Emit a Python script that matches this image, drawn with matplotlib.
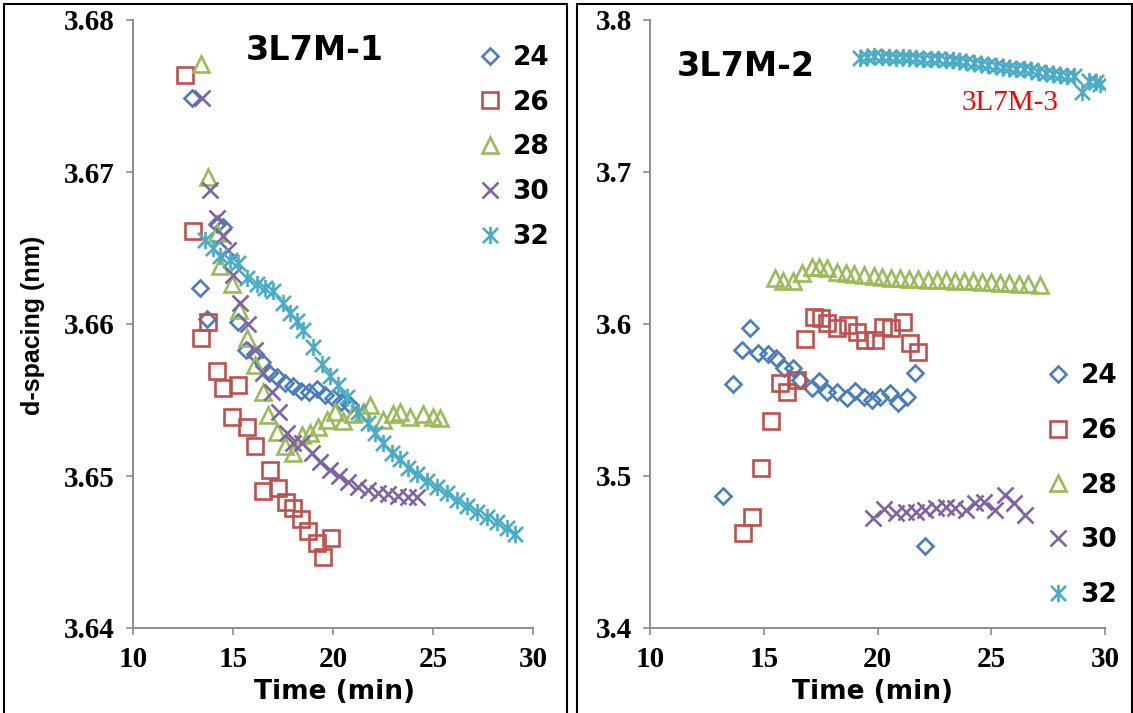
import matplotlib
matplotlib.use('Agg')
import matplotlib.pyplot as plt
from matplotlib.path import Path
from matplotlib.patches import Rectangle

# ---- data: 3L7M-1 (left panel) ----
t24_a = [12.95, 13.35, 13.7, 14.2, 14.5, 15.25, 15.65, 16.1, 16.45, 16.8, 17.2, 17.6, 18.0, 18.4, 18.8, 19.2, 19.6, 20.0, 20.4, 20.85]
d24_a = [3.6749, 3.6624, 3.6603, 3.6666, 3.6664, 3.6601, 3.6583, 3.6580, 3.6575, 3.6568, 3.6565, 3.6561, 3.6559, 3.6556, 3.6555, 3.6557, 3.6553, 3.6551, 3.6549, 3.6547]
t26_a = [12.6, 13.0, 13.4, 13.75, 14.2, 14.5, 14.95, 15.25, 15.7, 16.1, 16.5, 16.85, 17.25, 17.65, 18.0, 18.4, 18.75, 19.2, 19.5, 19.9]
d26_a = [3.6764, 3.6661, 3.6591, 3.6601, 3.6569, 3.6558, 3.6539, 3.6560, 3.6532, 3.6520, 3.6490, 3.6504, 3.6492, 3.6483, 3.6479, 3.6472, 3.6464, 3.6456, 3.6447, 3.6459]
t28_a = [13.4, 13.75, 14.2, 14.35, 14.95, 15.3, 15.7, 16.1, 16.5, 16.75, 17.2, 17.6, 18.0, 18.45, 18.85, 19.25, 19.7, 20.1, 20.5, 21.0, 21.5, 21.85, 22.5, 23.0, 23.35, 23.85, 24.5, 25.0, 25.35]
d28_a = [3.6771, 3.6697, 3.6660, 3.6638, 3.6626, 3.6609, 3.6591, 3.6573, 3.6555, 3.6540, 3.6529, 3.6520, 3.6515, 3.6527, 3.6528, 3.6532, 3.6537, 3.6542, 3.6536, 3.6541, 3.6542, 3.6547, 3.6537, 3.6541, 3.6542, 3.6539, 3.6541, 3.6539, 3.6538]
t30_a = [13.45, 13.85, 14.2, 14.5, 14.75, 15.0, 15.35, 15.75, 16.1, 16.5, 16.95, 17.3, 17.7, 18.0, 18.45, 18.95, 19.35, 19.85, 20.3, 20.75, 21.25, 21.75, 22.25, 22.75, 23.25, 23.75, 24.2]
d30_a = [3.6749, 3.6688, 3.6670, 3.6658, 3.6649, 3.6632, 3.6614, 3.6600, 3.6583, 3.6568, 3.6555, 3.6542, 3.6528, 3.6522, 3.6522, 3.6515, 3.6509, 3.6504, 3.6500, 3.6496, 3.6493, 3.6491, 3.6489, 3.6488, 3.6487, 3.6486, 3.6486]
t32_a = [13.6, 14.0, 14.35, 14.85, 15.25, 15.7, 16.2, 16.6, 17.0, 17.5, 17.85, 18.2, 18.5, 19.0, 19.45, 19.85, 20.25, 20.7, 21.25, 21.75, 22.1, 22.5, 22.95, 23.35, 23.75, 24.2, 24.7, 25.2, 25.7, 26.2, 26.7, 27.2, 27.7, 28.2, 28.7, 29.1]
d32_a = [3.6655, 3.6650, 3.6645, 3.6642, 3.6640, 3.6630, 3.6626, 3.6624, 3.6622, 3.6614, 3.6607, 3.6602, 3.6596, 3.6585, 3.6574, 3.6566, 3.6560, 3.6552, 3.6542, 3.6535, 3.6528, 3.6522, 3.6515, 3.6511, 3.6505, 3.6501, 3.6497, 3.6493, 3.6489, 3.6484, 3.6480, 3.6476, 3.6473, 3.6470, 3.6466, 3.6462]

# ---- data: 3L7M-2 (right panel, 32 series is 3L7M-3) ----
t24_b = [13.2, 13.65, 14.05, 14.4, 14.75, 15.2, 15.55, 15.9, 16.3, 16.6, 17.1, 17.45, 17.8, 18.2, 18.65, 19.0, 19.4, 19.75, 20.1, 20.55, 20.9, 21.3, 21.65, 22.1]
d24_b = [3.4868, 3.5605, 3.5829, 3.5974, 3.5810, 3.5800, 3.5776, 3.5710, 3.5710, 3.5630, 3.5580, 3.5625, 3.5553, 3.5553, 3.5513, 3.5559, 3.5520, 3.5500, 3.5520, 3.5546, 3.5480, 3.5520, 3.5678, 3.4540]
t26_b = [14.1, 14.5, 14.9, 15.3, 15.7, 16.0, 16.45, 16.8, 17.2, 17.5, 17.8, 18.2, 18.7, 19.1, 19.45, 19.9, 20.25, 20.6, 21.1, 21.45, 21.8]
d26_b = [3.4625, 3.4730, 3.5050, 3.5360, 3.5610, 3.5553, 3.5630, 3.5901, 3.6046, 3.6040, 3.6006, 3.5974, 3.5993, 3.5947, 3.5895, 3.5895, 3.5980, 3.5974, 3.6013, 3.5875, 3.5816]
t28_b = [15.5, 15.85, 16.3, 16.7, 17.1, 17.45, 17.8, 18.2, 18.6, 18.95, 19.4, 19.85, 20.2, 20.6, 21.0, 21.4, 21.8, 22.2, 22.6, 23.0, 23.4, 23.8, 24.2, 24.6, 25.0, 25.4, 25.8, 26.2, 26.6, 27.15]
d28_b = [3.6303, 3.6285, 3.6282, 3.6336, 3.6375, 3.6375, 3.6370, 3.6345, 3.6338, 3.6328, 3.6325, 3.6318, 3.6310, 3.6305, 3.6300, 3.6298, 3.6295, 3.6292, 3.6290, 3.6288, 3.6285, 3.6282, 3.6280, 3.6278, 3.6275, 3.6270, 3.6268, 3.6265, 3.6262, 3.6257]
t30_b = [19.8, 20.3, 20.8, 21.25, 21.7, 22.1, 22.55, 23.0, 23.4, 23.9, 24.3, 24.7, 25.15, 25.6, 26.0, 26.5]
d30_b = [3.4724, 3.4783, 3.4757, 3.4765, 3.4765, 3.4776, 3.4790, 3.4797, 3.4790, 3.4776, 3.4822, 3.4829, 3.4776, 3.4875, 3.4822, 3.4743]
t32_b = [19.25, 19.55, 19.85, 20.2, 20.5, 20.8, 21.1, 21.4, 21.7, 22.0, 22.35, 22.65, 23.0, 23.3, 23.6, 23.9, 24.25, 24.55, 24.85, 25.2, 25.5, 25.8, 26.1, 26.45, 26.75, 27.05, 27.4, 27.7, 28.0, 28.35, 28.65, 29.0, 29.3, 29.6, 29.8]
d32_b = [3.7750, 3.7757, 3.7763, 3.7757, 3.7757, 3.7750, 3.7757, 3.7750, 3.7750, 3.7745, 3.7743, 3.7743, 3.7737, 3.7737, 3.7730, 3.7724, 3.7717, 3.7710, 3.7704, 3.7697, 3.7690, 3.7685, 3.7680, 3.7675, 3.7670, 3.7660, 3.7652, 3.7645, 3.7640, 3.7632, 3.7630, 3.7525, 3.7600, 3.7592, 3.7580]

labels = ['24', '26', '28', '30', '32']
colors = ['#4A7EBB', '#C0504D', '#9BBB59', '#8064A2', '#4BACC6']

x_ticks = [10, 15, 20, 25, 30]
y_ticks_a = [3.64, 3.65, 3.66, 3.67, 3.68]
y_ticks_b = [3.4, 3.5, 3.6, 3.7, 3.8]

W, H = 1133, 713

# excel style star: an x with a vertical bar
star = Path([(-1, -1), (1, 1), (-1, 1), (1, -1), (0, -1.15), (0, 1.15)],
            [Path.MOVETO, Path.LINETO, Path.MOVETO, Path.LINETO, Path.MOVETO, Path.LINETO])
markers = [('D', 8.5), ('s', 11), ('^', 12), ('x', 11), (star, 12.5)]

tick_font = dict(family=['Liberation Serif', 'DejaVu Serif'], weight='bold', size=21)
bold_sans = ['DejaVu Sans']


def px(x, y):
    return x / W, 1 - y / H


def make_axes(fig, left, right, top, bottom):
    ax = fig.add_axes([left / W, 1 - bottom / H, (right - left) / W, (bottom - top) / H])
    for s in ['top', 'right']:
        ax.spines[s].set_visible(False)
    for s in ['left', 'bottom']:
        ax.spines[s].set_color('#8C8C8C')
        ax.spines[s].set_linewidth(1.4)
    ax.tick_params(direction='out', length=5, width=1.2, color='#8C8C8C', pad=8)
    return ax


def draw_series(ax, ts, ds):
    handles = []
    for t, d, lab, c, (m, ms) in zip(ts, ds, labels, colors, markers):
        h, = ax.plot(t, d, linestyle='none', marker=m, ms=ms, mfc='none', mec=c,
                     mew=1.9, label=lab)
        handles.append(h)
    return handles


fig = plt.figure(figsize=(W / 100, H / 100), dpi=100)

# panel frames
fig.patches.append(Rectangle(px(4, 720), 563 / W, 716 / H, transform=fig.transFigure,
                             fill=False, ec='black', lw=1.5))
fig.patches.append(Rectangle(px(577, 720), 555 / W, 716 / H, transform=fig.transFigure,
                             fill=False, ec='black', lw=1.5))

# left panel
ax1 = make_axes(fig, 133, 533, 20, 628)
h1 = draw_series(ax1, [t24_a, t26_a, t28_a, t30_a, t32_a], [d24_a, d26_a, d28_a, d30_a, d32_a])
ax1.set_xlim(10, 30)
ax1.set_ylim(3.64, 3.68)
ax1.set_xticks(x_ticks)
ax1.set_yticks(y_ticks_a)
ax1.set_xticklabels([str(v) for v in x_ticks], **tick_font)
ax1.set_yticklabels(['%.2f' % v for v in y_ticks_a], **tick_font)
ax1.legend(handles=h1, loc='upper left', bbox_to_anchor=px(477, 45), bbox_transform=fig.transFigure,
           frameon=False, prop=dict(family=bold_sans, weight='bold', size=19),
           handlelength=1.0, handletextpad=0.35, labelspacing=0.71, borderpad=0, borderaxespad=0)

# right panel
ax2 = make_axes(fig, 650, 1105, 20, 628)
h2 = draw_series(ax2, [t24_b, t26_b, t28_b, t30_b, t32_b], [d24_b, d26_b, d28_b, d30_b, d32_b])
ax2.set_xlim(10, 30)
ax2.set_ylim(3.4, 3.8)
ax2.set_xticks(x_ticks)
ax2.set_yticks(y_ticks_b)
ax2.set_xticklabels([str(v) for v in x_ticks], **tick_font)
ax2.set_yticklabels(['%.1f' % v for v in y_ticks_b], **tick_font)
ax2.legend(handles=h2, loc='upper left', bbox_to_anchor=px(1045, 363), bbox_transform=fig.transFigure,
           frameon=False, prop=dict(family=bold_sans, weight='bold', size=19),
           handlelength=1.0, handletextpad=0.35, labelspacing=1.09, borderpad=0, borderaxespad=0)

# titles and labels
fig.text(*px(315, 50), '3L7M-1', family=bold_sans, weight='bold', size=24, ha='center', va='center')
fig.text(*px(746, 66), '3L7M-2', family=bold_sans, weight='bold', size=24, ha='center', va='center')
fig.text(*px(1010, 103), '3L7M-3', family=['Liberation Serif'], size=21, color='red',
         ha='center', va='center')
fig.text(*px(334, 692), 'Time (min)', family=bold_sans, weight='bold', size=19, ha='center', va='center')
fig.text(*px(873, 692), 'Time (min)', family=bold_sans, weight='bold', size=19, ha='center', va='center')
fig.text(*px(33, 325), 'd-spacing (nm)', family=['Liberation Sans'], weight='bold', size=18,
         rotation=90, ha='center', va='center')

fig.savefig('out.png', dpi=100)
